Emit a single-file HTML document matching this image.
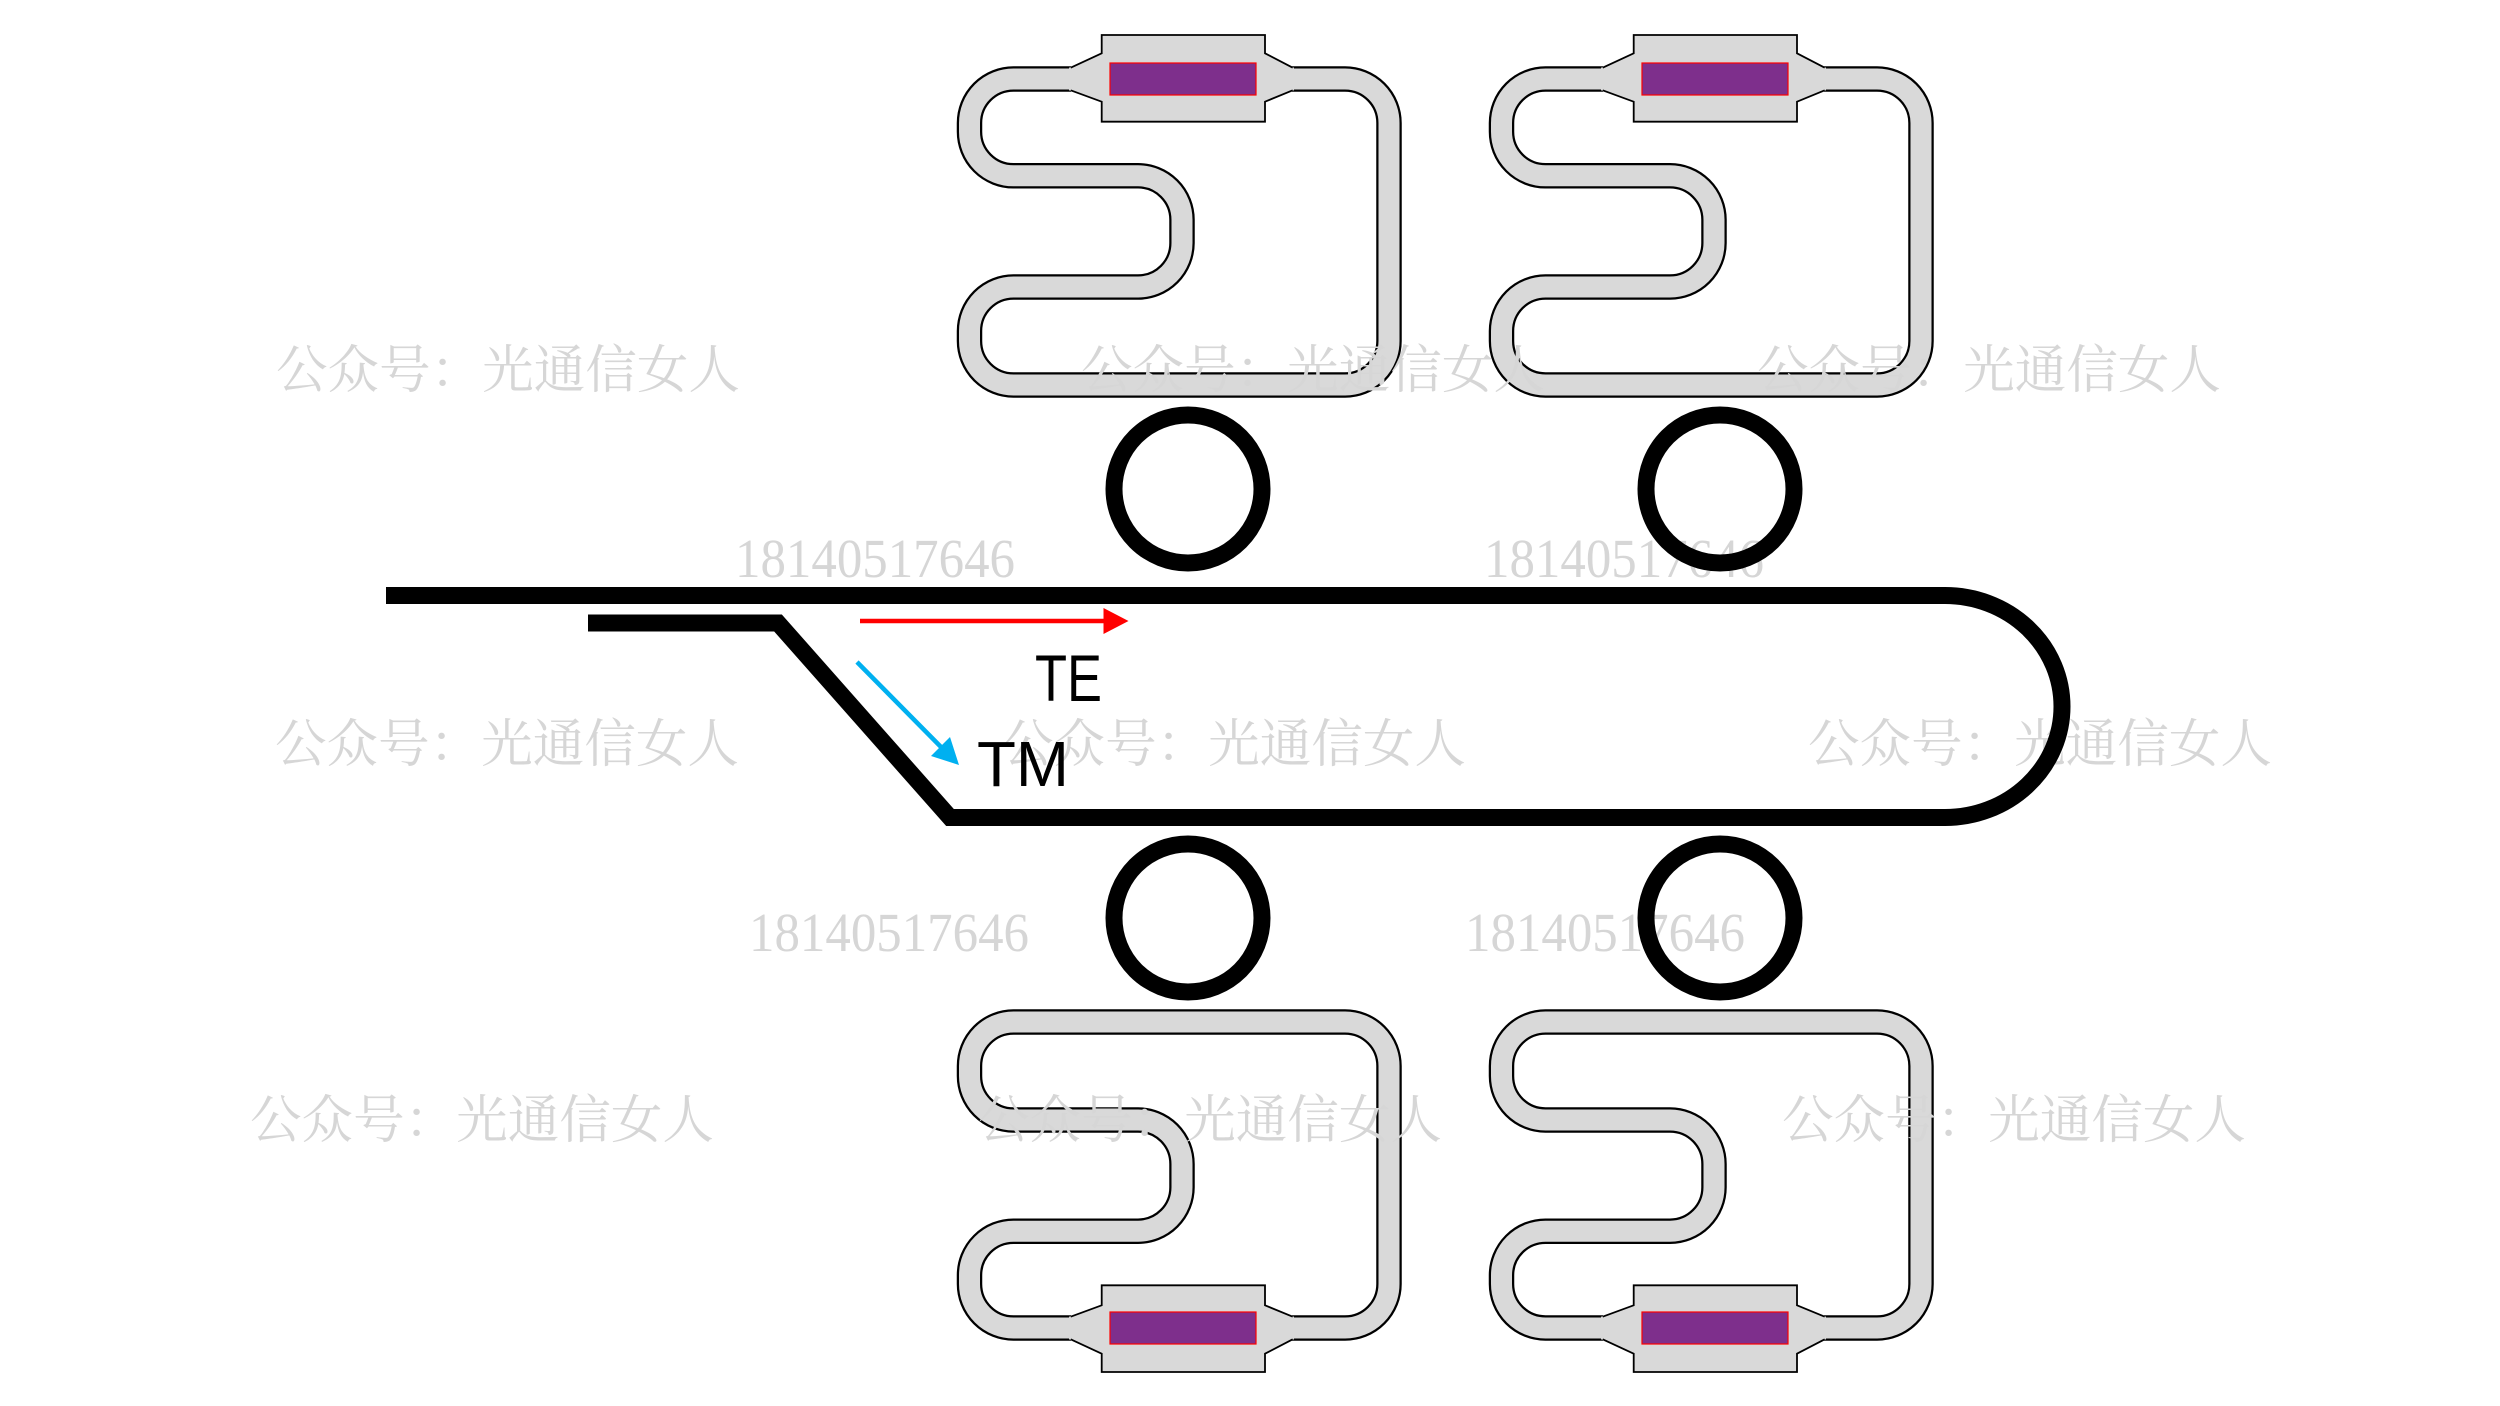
<!DOCTYPE html>
<html><head><meta charset="utf-8"><style>
html,body{margin:0;padding:0;background:#fff;}
svg{display:block;}
</style></head><body>
<svg width="2500" height="1406" viewBox="0 0 2500 1406" xmlns="http://www.w3.org/2000/svg">
<defs>
<g id="res">
  <path d="M1071 79 H1013.5 A44 44 0 0 0 969.5 123 V131.8 A44 44 0 0 0 1013.5 175.8 H1138 A44 44 0 0 1 1182 219.8 V243 A44 44 0 0 1 1138 287 H1013.5 A44 44 0 0 0 969.5 331 V341 A44 44 0 0 0 1013.5 385 H1345 A44 44 0 0 0 1389 341 V123 A44 44 0 0 0 1345 79 H1292" fill="none" stroke="#000" stroke-width="25.5"/>
  <path d="M1071 79 H1013.5 A44 44 0 0 0 969.5 123 V131.8 A44 44 0 0 0 1013.5 175.8 H1138 A44 44 0 0 1 1182 219.8 V243 A44 44 0 0 1 1138 287 H1013.5 A44 44 0 0 0 969.5 331 V341 A44 44 0 0 0 1013.5 385 H1345 A44 44 0 0 0 1389 341 V123 A44 44 0 0 0 1345 79 H1292" fill="none" stroke="#d9d9d9" stroke-width="21"/>
  <polygon points="1069,67.7 1101.7,53.3 1101.7,35 1265,35 1265,53.3 1294,67.7 1294,90.3 1265,101.7 1265,121.7 1101.7,121.7 1101.7,101.7 1069,90.3" fill="#d9d9d9"/>
  <polyline points="1070.7,67.7 1101.7,53.3 1101.7,35 1265,35 1265,53.3 1292.7,67.7" fill="none" stroke="#000" stroke-width="1.8"/>
  <polyline points="1070.7,90.3 1101.7,101.7 1101.7,121.7 1265,121.7 1265,101.7 1292.7,90.3" fill="none" stroke="#000" stroke-width="1.8"/>
  <rect x="1110" y="63" width="146" height="32" fill="#7e2f8c" stroke="#ff0000" stroke-width="1.2"/>
</g>
</defs>
<use href="#res"/>
<use href="#res" transform="translate(532,0)"/>
<use href="#res" transform="translate(0,1407) scale(1,-1)"/>
<use href="#res" transform="translate(532,1407) scale(1,-1)"/>

<g font-family="'Liberation Serif','Noto Serif CJK SC',serif" fill="#d6d6d6" font-size="52">
  <text x="276" y="388" textLength="464" lengthAdjust="spacingAndGlyphs">公众号：光通信女人</text>
  <text x="1081" y="388" textLength="464" lengthAdjust="spacingAndGlyphs">公众号：光通信女人</text>
  <text x="1757" y="388" textLength="464" lengthAdjust="spacingAndGlyphs">公众号：光通信女人</text>
  <text x="275" y="762" textLength="464" lengthAdjust="spacingAndGlyphs">公众号：光通信女人</text>
  <text x="1002" y="762" textLength="464" lengthAdjust="spacingAndGlyphs">公众号：光通信女人</text>
  <text x="1808" y="762" textLength="464" lengthAdjust="spacingAndGlyphs">公众号：光通信女人</text>
  <text x="250" y="1138" textLength="464" lengthAdjust="spacingAndGlyphs">公众号：光通信女人</text>
  <text x="978" y="1138" textLength="464" lengthAdjust="spacingAndGlyphs">公众号：光通信女人</text>
  <text x="1782" y="1138" textLength="464" lengthAdjust="spacingAndGlyphs">公众号：光通信女人</text>
  <g font-size="55">
  <text x="735" y="577" textLength="280" lengthAdjust="spacingAndGlyphs">18140517646</text>
  <text x="1484" y="577" textLength="280" lengthAdjust="spacingAndGlyphs">18140517646</text>
  <text x="749" y="951" textLength="280" lengthAdjust="spacingAndGlyphs">18140517646</text>
  <text x="1465" y="951" textLength="280" lengthAdjust="spacingAndGlyphs">18140517646</text>
  </g>
</g>

<g fill="none" stroke="#000" stroke-width="17">
  <circle cx="1188" cy="489" r="74"/>
  <circle cx="1720" cy="489" r="74"/>
  <circle cx="1188" cy="918" r="74"/>
  <circle cx="1720" cy="918" r="74"/>
  <path d="M386 595.5 H1945 A117 111 0 0 1 1945 817.5 H950 L778 623 H588" stroke-linejoin="miter"/>
</g>

<line x1="860" y1="621" x2="1106" y2="621" stroke="#ff0000" stroke-width="4.5"/>
<polygon points="1103.5,608 1128.5,621 1103.5,634" fill="#ff0000"/>
<line x1="857" y1="662" x2="942" y2="748" stroke="#00b0f0" stroke-width="4.5"/>
<polygon points="959,765 931,756 950,737" fill="#00b0f0"/>

<g font-family="'Liberation Sans',sans-serif" fill="#000">
  <text x="1035" y="701" font-size="66" textLength="67" lengthAdjust="spacingAndGlyphs">TE</text>
  <text x="977" y="786" font-size="64" textLength="92" lengthAdjust="spacingAndGlyphs">TM</text>
</g>
</svg>
</body></html>
